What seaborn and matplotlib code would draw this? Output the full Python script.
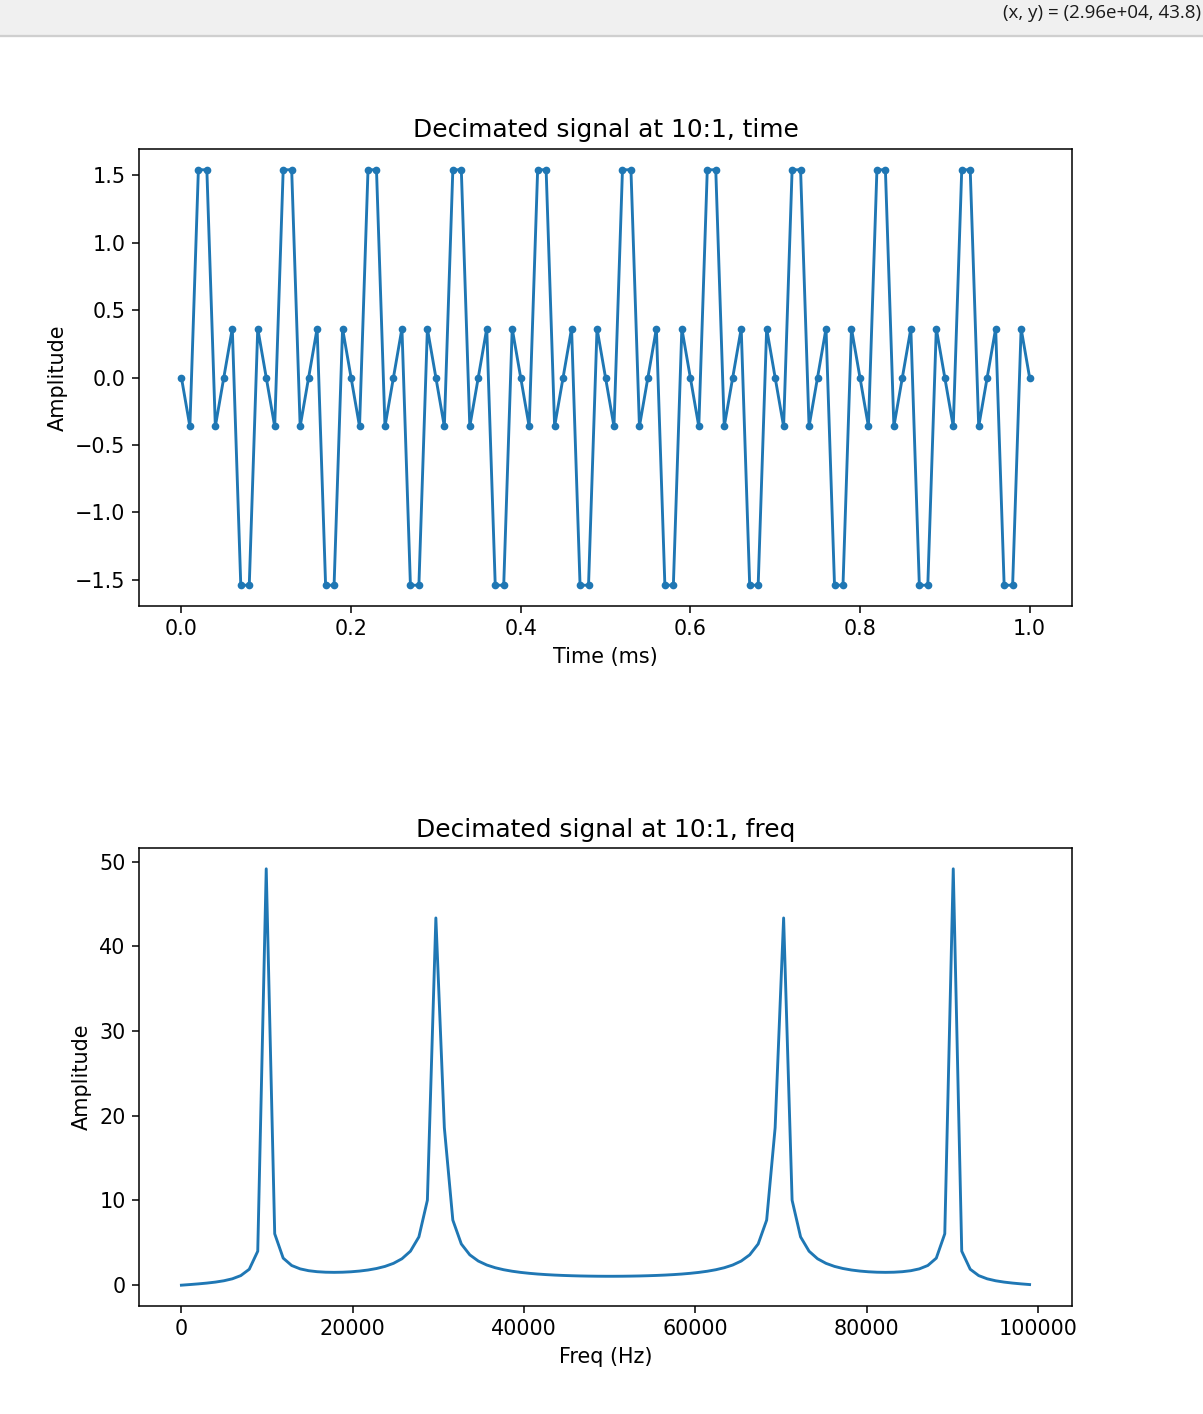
import numpy as np
import matplotlib
matplotlib.use("Agg")
import matplotlib.pyplot as plt
import seaborn as sns

# sample rate after decimation and number of samples
fs = 100000
n_samples = 101

# decimated signal (one value per sample)
amp_time = [
    0.0, -0.363, 1.539, 1.539, -0.363, 0.0, 0.363, -1.539, -1.539, 0.363,
    0.0, -0.363, 1.539, 1.539, -0.363, 0.0, 0.363, -1.539, -1.539, 0.363,
    0.0, -0.363, 1.539, 1.539, -0.363, 0.0, 0.363, -1.539, -1.539, 0.363,
    0.0, -0.363, 1.539, 1.539, -0.363, 0.0, 0.363, -1.539, -1.539, 0.363,
    0.0, -0.363, 1.539, 1.539, -0.363, 0.0, 0.363, -1.539, -1.539, 0.363,
    0.0, -0.363, 1.539, 1.539, -0.363, 0.0, 0.363, -1.539, -1.539, 0.363,
    0.0, -0.363, 1.539, 1.539, -0.363, 0.0, 0.363, -1.539, -1.539, 0.363,
    0.0, -0.363, 1.539, 1.539, -0.363, 0.0, 0.363, -1.539, -1.539, 0.363,
    0.0, -0.363, 1.539, 1.539, -0.363, 0.0, 0.363, -1.539, -1.539, 0.363,
    0.0, -0.363, 1.539, 1.539, -0.363, 0.0, 0.363, -1.539, -1.539, 0.363,
    0.0,
]

# magnitude spectrum, one value per bin
amp_freq = [
    0.0, 0.074, 0.154, 0.247, 0.363, 0.520, 0.751, 1.131, 1.881, 4.013,
    49.15, 6.067, 3.192, 2.324, 1.925, 1.710, 1.592, 1.532, 1.515, 1.532,
    1.582, 1.666, 1.790, 1.967, 2.216, 2.576, 3.119, 4.011, 5.701, 10.03,
    43.35, 18.59, 7.681, 4.866, 3.582, 2.851, 2.382, 2.059, 1.823, 1.646,
    1.509, 1.402, 1.316, 1.248, 1.193, 1.150, 1.116, 1.089, 1.071, 1.058,
    1.052, 1.052, 1.058, 1.071, 1.089, 1.116, 1.150, 1.193, 1.248, 1.316,
    1.402, 1.509, 1.646, 1.823, 2.059, 2.382, 2.851, 3.582, 4.866, 7.681,
    18.59, 43.35, 10.03, 5.701, 4.011, 3.119, 2.576, 2.216, 1.967, 1.790,
    1.666, 1.582, 1.532, 1.515, 1.532, 1.592, 1.710, 1.925, 2.324, 3.192,
    6.067, 49.15, 4.013, 1.881, 1.131, 0.751, 0.520, 0.363, 0.247, 0.154,
    0.074,
]

time_ms = np.arange(n_samples) * 1000.0 / fs
freq_hz = np.arange(n_samples) * fs / n_samples

plt.rcParams["font.size"] = 10.8

blue = "#1f77b4"
dpi = 138
W, H = 1203, 1414
fig = plt.figure(figsize=(W / dpi, H / dpi), dpi=dpi)

# window toolbar strip with the cursor readout
fig.patches.append(plt.Rectangle((0, 1 - 35 / H), 1, 35 / H, transform=fig.transFigure,
                                 facecolor="#f0f0f0", edgecolor="none", zorder=0))
fig.lines.append(plt.Line2D([0, 1], [1 - 35.5 / H, 1 - 35.5 / H], transform=fig.transFigure,
                            color="#cfcfcf", linewidth=1.2))
fig.text(1201 / W, 1 - 13.5 / H, "(x, y) = (2.96e+04, 43.8)", ha="right", va="center",
         fontsize=9.8, family=["Open Sans", "DejaVu Sans"], color="#1a1a1a")

ax1 = fig.add_axes([139 / W, 1 - 606 / H, (1072 - 139) / W, (606 - 149) / H])
ax2 = fig.add_axes([139 / W, 1 - 1306 / H, (1072 - 139) / W, (1306 - 848) / H])

sns.lineplot(x=time_ms, y=amp_time, ax=ax1, color=blue, marker=".", markersize=6,
             markeredgecolor=blue, markeredgewidth=1.0, linewidth=1.5)
ax1.set_title("Decimated signal at 10:1, time")
ax1.set_xlabel("Time (ms)")
ax1.set_ylabel("Amplitude")

sns.lineplot(x=freq_hz, y=amp_freq, ax=ax2, color=blue, linewidth=1.5)
ax2.set_title("Decimated signal at 10:1, freq")
ax2.set_xlabel("Freq (Hz)")
ax2.set_ylabel("Amplitude")
ax2.set_xticks([0, 20000, 40000, 60000, 80000, 100000])
ax2.set_yticks([0, 10, 20, 30, 40, 50])

fig.savefig("out.png", dpi=dpi)
